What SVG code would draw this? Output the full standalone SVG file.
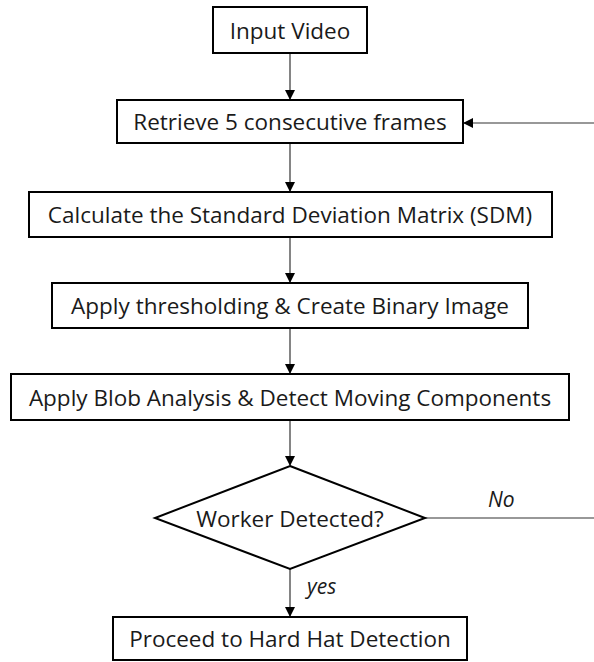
<svg xmlns="http://www.w3.org/2000/svg" width="594" height="662" viewBox="0 0 594 662">
<style>
.box{fill:#fff;stroke:#000;stroke-width:2}
.t{font-family:"Open Sans","Liberation Sans",sans-serif;font-size:22.5px;fill:#1a1a1a;text-anchor:middle;dominant-baseline:central}
.l{font-family:"Open Sans","Liberation Sans",sans-serif;font-size:21px;font-style:italic;fill:#1a1a1a}
.c{stroke:#333;stroke-width:1.2;fill:none}
</style>
<defs>
<marker id="a" markerWidth="10" markerHeight="10" refX="9" refY="5" orient="auto" markerUnits="userSpaceOnUse">
<path d="M0,0 L10,5 L0,10 z" fill="#000"/>
</marker>
</defs>
<rect width="594" height="662" fill="#fff"/>
<g id="connectors">
<line class="c" x1="290" y1="53" x2="290" y2="99" marker-end="url(#a)"/>
<line class="c" x1="594" y1="123" x2="464" y2="123" marker-end="url(#a)"/>
<line class="c" x1="290" y1="143" x2="290" y2="191" marker-end="url(#a)"/>
<line class="c" x1="290" y1="237" x2="290" y2="282" marker-end="url(#a)"/>
<line class="c" x1="290" y1="328" x2="290" y2="373" marker-end="url(#a)"/>
<line class="c" x1="290" y1="420" x2="290" y2="465" marker-end="url(#a)"/>
<line class="c" x1="425" y1="518" x2="594" y2="518"/>
<line class="c" x1="290" y1="569" x2="290" y2="616" marker-end="url(#a)"/>
<text class="l" x="488" y="507">No</text>
<text class="l" x="307" y="594">yes</text>
</g>
<g id="input">
<rect class="box" x="213" y="7" width="154" height="46"/>
<text class="t" x="290" y="30">Input Video</text>
</g>
<g id="retrieve">
<rect class="box" x="117" y="100" width="346" height="43"/>
<text class="t" x="290" y="121.5">Retrieve 5 consecutive frames</text>
</g>
<g id="sdm">
<rect class="box" x="29" y="192" width="523" height="45"/>
<text class="t" x="290" y="214.5">Calculate the Standard Deviation Matrix (SDM)</text>
</g>
<g id="threshold">
<rect class="box" x="52" y="283" width="476" height="45"/>
<text class="t" x="290" y="305.5">Apply thresholding &amp; Create Binary Image</text>
</g>
<g id="blob">
<rect class="box" x="11" y="374" width="558" height="46"/>
<text class="t" x="290" y="397">Apply Blob Analysis &amp; Detect Moving Components</text>
</g>
<g id="decision">
<polygon class="box" points="290,466 425,518 290,569 155,518"/>
<text class="t" x="290" y="518">Worker Detected?</text>
</g>
<g id="proceed">
<rect class="box" x="113" y="617" width="354" height="43"/>
<text class="t" x="290" y="638.5">Proceed to Hard Hat Detection</text>
</g>
</svg>
